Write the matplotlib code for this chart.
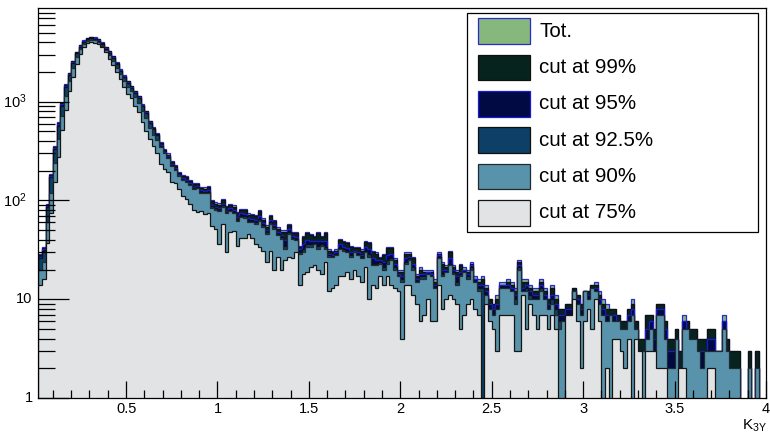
import numpy as np
import matplotlib
matplotlib.use("Agg")
import matplotlib.pyplot as plt
from matplotlib.patches import Rectangle
from matplotlib.ticker import FixedLocator, NullFormatter

plt.rcParams["font.family"] = ["Liberation Sans", "DejaVu Sans"]
plt.rcParams["mathtext.fontset"] = "custom"
plt.rcParams["mathtext.rm"] = "Liberation Sans"
plt.rcParams["mathtext.it"] = "Liberation Sans:italic"

# K_3Y histogram: 199 bins of width 0.02 from 0.02 to 4.0
x_lo, x_hi = 0.02, 4.0
n_bins = 199

tot = [29, 34, 93, 187, 359, 617, 980, 1510, 1977, 2594, 3220, 3770, 4200, 4460, 4570, 4500, 4330, 3990, 3590, 3270,
       2920, 2500, 2140, 1860, 1630, 1450, 1290, 1150, 950, 815, 640, 550, 480,
       390, 330, 300, 250, 228, 195, 180, 176, 162, 150, 152, 138, 136, 140, 102, 96, 94, 104, 88, 92, 89, 76,
       82, 82, 74, 73, 71, 80, 66, 56, 72, 64, 54, 50, 50, 58, 48, 48, 35, 44, 48, 46, 44, 48, 44, 48,
       32, 31, 32, 41, 39, 38, 35, 34, 34, 32, 39, 38, 31, 30, 27, 29, 34, 34, 26, 20, 20, 30, 30, 27,
       18, 21, 20, 20, 20, 16, 30, 24, 22, 31, 22, 20, 23, 21, 20, 24, 17, 16, 17, 14, 10, 9, 11, 15,
       15, 16, 15, 13, 25, 16, 16, 14, 13, 13, 16, 13, 10, 14, 11, 8, 8, 9, 9, 13, 11, 9, 12, 12, 14,
       15, 12, 10, 9, 8, 8, 7, 6, 6, 8, 10, 6, 4, 4, 7, 7, 5, 9, 9, 6, 4, 4, 5, 3, 7, 6, 5, 5, 4, 4,
       4, 5, 5, 3, 3, 7, 4, 3, 3, 3, 0, 0, 3, 0, 3, 0, 0]
cut99 = [28, 33, 91, 183, 352, 605, 962, 1485, 1950, 2560, 3180, 3725, 4150, 4405, 4515, 4445, 4275, 3940, 3545, 3230,
         2880, 2470, 2110, 1835, 1610, 1430, 1272, 1135, 937, 804, 631, 542, 473,
         380, 322, 292, 243, 222, 190, 175, 171, 157, 146, 148, 134, 132, 136, 99, 93, 91, 101, 85, 89, 86, 74,
         80, 80, 72, 71, 69, 78, 64, 54, 70, 62, 52, 48, 48, 56, 47, 47, 34, 43, 47, 45, 43, 47, 43, 47,
         31, 30, 31, 40, 38, 37, 34, 33, 33, 31, 38, 37, 30, 29, 26, 28, 33, 33, 25, 19, 19, 29, 29, 26,
         17, 20, 19, 19, 19, 15, 29, 23, 21, 30, 21, 19, 22, 20, 19, 23, 16, 15, 16, 13, 10, 9, 10, 14,
         14, 15, 14, 12, 24, 15, 15, 13, 12, 12, 15, 12, 10, 13, 10, 8, 8, 9, 9, 13, 11, 9, 12, 12, 14,
         14, 11, 9, 8, 8, 8, 7, 6, 6, 8, 9, 6, 4, 4, 7, 7, 5, 9, 9, 6, 4, 4, 5, 3, 6, 6, 5, 5, 4, 4,
         4, 5, 5, 3, 3, 6, 4, 3, 3, 3, 0, 0, 3, 0, 3, 0, 0]
cut95 = [27, 32, 88, 178, 343, 590, 940, 1455, 1915, 2520, 3130, 3670, 4090, 4345, 4450, 4380, 4215, 3885, 3495, 3180,
         2840, 2430, 2080, 1805, 1585, 1410, 1252, 1117, 922, 791, 621, 533, 465,
         368, 311, 282, 234, 213, 183, 167, 163, 150, 138, 140, 127, 125, 128, 91, 86, 84, 93, 79, 83, 80, 68,
         74, 73, 66, 65, 63, 70, 59, 50, 64, 57, 48, 45, 40, 51, 44, 43, 32, 36, 40, 39, 39, 39, 39, 39,
         29, 28, 30, 36, 34, 33, 30, 31, 30, 28, 34, 32, 26, 25, 25, 24, 28, 29, 23, 18, 17, 26, 27, 23,
         16, 18, 18, 19, 18, 14, 28, 20, 20, 26, 20, 17, 19, 20, 18, 22, 16, 14, 14, 12, 9, 8, 9, 14,
         14, 14, 13, 11, 22, 13, 14, 12, 11, 11, 14, 11, 9, 11, 9, 7, 7, 8, 8, 12, 10, 8, 12, 11, 13,
         13, 10, 8, 7, 7, 7, 6, 5, 5, 7, 8, 5, 3, 3, 5, 6, 4, 8, 8, 5, 3, 3, 4, 2, 6, 5, 4, 4, 3, 3,
         3, 4, 4, 3, 3, 6, 3, 2, 2, 2, 0, 0, 2, 0, 2, 0, 0]
cut925 = [26, 31, 85, 172, 332, 572, 915, 1420, 1880, 2475, 3080, 3610, 4030, 4280, 4385, 4320, 4155, 3830, 3445, 3135,
          2795, 2395, 2050, 1780, 1560, 1385, 1232, 1098, 907, 778, 611, 524, 457,
          356, 304, 276, 229, 208, 179, 163, 158, 145, 133, 136, 123, 121, 123, 87, 83, 80, 89, 76, 80, 76, 64,
          70, 69, 62, 62, 60, 65, 56, 48, 60, 54, 46, 43, 35, 48, 42, 41, 30, 32, 36, 36, 37, 35, 36, 34,
          28, 27, 29, 33, 32, 31, 28, 30, 29, 27, 31, 29, 23, 23, 24, 21, 25, 26, 21, 17, 16, 24, 26, 21,
          15, 17, 17, 18, 17, 13, 27, 18, 19, 23, 19, 15, 18, 19, 17, 21, 15, 13, 13, 11, 8, 7, 8, 13,
          13, 13, 12, 10, 21, 12, 13, 11, 10, 10, 13, 10, 8, 10, 8, 6, 6, 7, 7, 12, 9, 7, 12, 10, 13,
          12, 9, 7, 6, 7, 6, 6, 5, 5, 6, 7, 5, 3, 3, 4, 5, 3, 7, 7, 4, 2, 2, 4, 2, 5, 5, 4, 4, 3, 2,
          3, 3, 3, 3, 3, 5, 3, 2, 2, 2, 0, 0, 2, 0, 2, 0, 0]
cut90 = [20, 24, 60, 120, 240, 420, 720, 1150, 1620, 2200, 2830, 3400, 3820, 4120, 4230, 4170, 4040, 3710, 3330, 2950,
         2600, 2220, 1900, 1630, 1420, 1270, 1110, 980, 800, 680, 540, 460, 410,
         350, 300, 272, 226, 205, 176, 160, 155, 142, 130, 133, 120, 118, 120, 84, 80, 78, 86, 74, 78, 74, 62,
         68, 66, 60, 60, 58, 62, 54, 46, 58, 52, 45, 41, 32, 46, 41, 40, 29, 30, 34, 34, 36, 32, 35, 32,
         27, 27, 28, 32, 31, 30, 27, 30, 28, 26, 30, 27, 22, 22, 23, 20, 23, 25, 20, 17, 15, 23, 25, 20,
         15, 16, 16, 18, 17, 13, 26, 17, 19, 22, 18, 14, 17, 19, 16, 20, 15, 12, 0, 11, 8, 7, 8, 13,
         13, 13, 12, 9, 20, 12, 12, 10, 10, 10, 12, 10, 8, 9, 7, 5, 6, 7, 7, 12, 9, 7, 12, 10, 13,
         12, 9, 7, 6, 7, 6, 6, 5, 5, 6, 7, 5, 3, 3, 4, 5, 3, 7, 7, 4, 2, 2, 4, 2, 5, 5, 4, 4, 3, 2,
         3, 3, 3, 3, 3, 5, 3, 2, 2, 2, 0, 0, 2, 0, 2, 0, 0]
cut75 = [14, 16, 37, 74, 153, 274, 522, 830, 1290, 1800, 2400, 3030, 3550, 3900, 4000, 3950, 3850, 3550, 3160, 2700,
         2340, 1990, 1700, 1420, 1200, 1100, 910, 780, 620, 510, 420, 360, 300,
         236, 210, 193, 155, 150, 132, 110, 104, 92, 80, 77, 79, 73, 74, 55, 52, 36, 58, 30, 48, 49, 35,
         42, 42, 46, 42, 36, 34, 31, 24, 31, 20, 27, 20, 25, 27, 26, 30, 14, 18, 19, 21, 22, 20, 18, 24,
         12, 13, 14, 17, 17, 19, 16, 20, 17, 15, 21, 10, 14, 13, 17, 14, 17, 14, 13, 12, 4, 14, 14, 11,
         9, 6, 7, 10, 6, 6, 14, 8, 10, 11, 10, 9, 5, 7, 9, 10, 8, 7, 0, 9, 6, 5, 3, 7,
         7, 7, 7, 3, 3, 11, 5, 9, 7, 5, 7, 7, 5, 7, 5, 0, 0, 7, 7, 10, 6, 2, 6, 8, 5,
         10, 6, 0, 2, 0, 4, 4, 3, 2, 4, 0, 4, 3, 0, 3, 3, 3, 2, 2, 2, 0, 0, 0, 2, 2, 0, 0, 0, 0, 0,
         0, 2, 2, 0, 0, 0, 0, 0, 0, 0, 0, 0, 0, 0, 0, 0, 0]

labels = ["Tot.", "cut at 99%", "cut at 95%", "cut at 92.5%", "cut at 90%", "cut at 75%"]
faces = ["#86b77c", "#06231d", "#010a42", "#0c4066", "#5893ab", "#e2e3e5"]
lines = ["#2a2ad0", "#101010", "#1a1ad8", "#101010", "#202a30", "#151515"]
series = [tot, cut99, cut95, cut925, cut90, cut75]

W, H = 770, 434
fig = plt.figure(figsize=(W / 100, H / 100), dpi=100)
ax_l, ax_r, ax_t, ax_b = 38.3, 766.0, 7.5, 398.0
ax = fig.add_axes([ax_l / W, 1 - ax_b / H, (ax_r - ax_l) / W, (ax_b - ax_t) / H])

edges = np.linspace(x_lo, x_hi, n_bins + 1)
floor = 0.5
for vals, fc, ec in zip(series, faces, lines):
    v = np.maximum(np.asarray(vals, dtype=float), floor)
    ax.stairs(v, edges, baseline=floor, fill=True, facecolor=fc,
              edgecolor=ec, linewidth=0.9)

ax.set_yscale("log")
ax.set_xlim(x_lo, x_hi)
ax.set_ylim(1, 9000)

# x axis ticks
ax.xaxis.set_major_locator(FixedLocator([0.5, 1, 1.5, 2, 2.5, 3, 3.5, 4]))
ax.set_xticklabels(["0.5", "1", "1.5", "2", "2.5", "3", "3.5", "4"])
ax.xaxis.set_minor_locator(FixedLocator(np.round(np.arange(0.1, 4.0, 0.1), 2)))
ax.xaxis.set_minor_formatter(NullFormatter())
ax.tick_params(axis="x", which="major", direction="in", length=12, width=0.9,
               labelsize=10.5, pad=3, top=False)
ax.tick_params(axis="x", which="minor", direction="in", length=6, width=0.9, top=False)

# y axis ticks
ax.yaxis.set_major_locator(FixedLocator([1, 10, 100, 1000]))
ax.yaxis.set_major_formatter(NullFormatter())
minors = [m * 10 ** d for d in range(0, 4) for m in range(2, 10) if m * 10 ** d < 9000]
ax.yaxis.set_minor_locator(FixedLocator(minors))
ax.yaxis.set_minor_formatter(NullFormatter())
ax.tick_params(axis="y", which="major", direction="in", length=22, width=0.9, right=False)
ax.tick_params(axis="y", which="minor", direction="in", length=12, width=0.9, right=False)

ytrans = ax.get_yaxis_transform()
def px_to_axx(px):
    return (px - ax_l) / (ax_r - ax_l)
for val, txt, right_px in [(1, "1", 33), (10, "10", 32), (100, r"$10^{2}$", 27), (1000, r"$10^{3}$", 27)]:
    ax.text(px_to_axx(right_px), val, txt, transform=ytrans, ha="right", va="center", fontsize=10.5)

for s in ax.spines.values():
    s.set_linewidth(0.9)

# axis title
fig.text(767 / W, 1 - 430 / H, r"$\mathregular{K_{3Y}}$", ha="right", va="baseline", fontsize=11)

# legend box
def fx(px):
    return px / W
def fy(py):
    return 1 - py / H
box_l, box_r, box_t, box_b = 467.3, 757.7, 12.7, 231.7
fig.add_artist(Rectangle((fx(box_l), fy(box_b)), fx(box_r) - fx(box_l), fy(box_t) - fy(box_b),
                         transform=fig.transFigure, facecolor="white", edgecolor="black", linewidth=0.9))
row_top0, row_step, sw_h = 18.3, 36.3, 25.7
for k, (lab, fc, ec) in enumerate(zip(labels, faces, lines)):
    top = row_top0 + k * row_step
    fig.add_artist(Rectangle((fx(478.3), fy(top + sw_h)), fx(530) - fx(478.3), fy(top) - fy(top + sw_h),
                             transform=fig.transFigure, facecolor=fc, edgecolor=ec, linewidth=0.9))
    fig.text(fx(539), fy(top + sw_h / 2), lab, ha="left", va="center", fontsize=14.8)

fig.savefig("out.png", dpi=100, facecolor="white")
